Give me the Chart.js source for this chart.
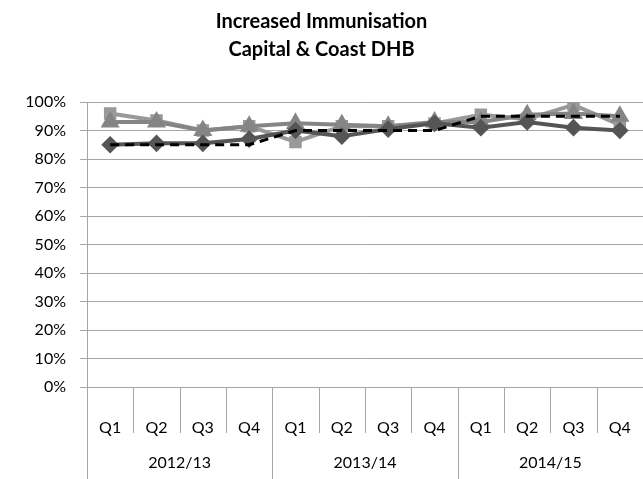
<!DOCTYPE html>
<html>
<head>
<meta charset="utf-8">
<script src="https://cdn.jsdelivr.net/npm/chart.js@4/dist/chart.umd.min.js"></script>
<style>
  html, body { margin: 0; padding: 0; background: #fff; }
  #wrap { width: 643px; height: 479px; }
</style>
</head>
<body>
<div id="wrap"><canvas id="chart" width="643" height="479"></canvas></div>
<script>
// dados
const quarters = ['Q1','Q2','Q3','Q4','Q1','Q2','Q3','Q4','Q1','Q2','Q3','Q4'];
const years = ['2012/13', '2013/14', '2014/15'];
const yTicks = [0, 0.1, 0.2, 0.3, 0.4, 0.5, 0.6, 0.7, 0.8, 0.9, 1];

const serieDiamante = [0.85, 0.855, 0.855, 0.87, 0.90, 0.88, 0.905, 0.925, 0.91, 0.93, 0.91, 0.90];
const serieMeta     = [0.85, 0.85, 0.85, 0.85, 0.90, 0.90, 0.90, 0.90, 0.95, 0.95, 0.95, 0.95];
const serieQuadrado = [0.96, 0.935, 0.90, 0.915, 0.86, 0.915, 0.915, 0.925, 0.955, 0.94, 0.99, 0.92];
const serieTriangulo = [0.93, 0.93, 0.90, 0.915, 0.925, 0.92, 0.915, 0.93, 0.93, 0.955, 0.96, 0.95];

const FONTE = 'Lato, "Open Sans", sans-serif';

// desenha as linhas de separação e o segundo nível do eixo X
const eixoDuplo = {
  id: 'eixoDuplo',
  afterDraw(chart) {
    const ctx = chart.ctx;
    const x = chart.scales.x;
    const bottom = chart.chartArea.bottom;
    const passo = x.getPixelForValue(1) - x.getPixelForValue(0);
    ctx.save();
    ctx.strokeStyle = '#a6a6a6';
    ctx.lineWidth = 1;
    for (let i = 0; i <= quarters.length; i++) {
      const px = Math.round(x.getPixelForValue(i) - passo / 2) + 0.5;
      const fim = (i % 4 === 0) ? 479 : 433;
      ctx.beginPath();
      ctx.moveTo(px, bottom);
      ctx.lineTo(px, fim);
      ctx.stroke();
    }
    ctx.fillStyle = '#000';
    ctx.font = '16px ' + FONTE;
    ctx.textAlign = 'center';
    ctx.textBaseline = 'middle';
    years.forEach((ano, g) => {
      const cx = (x.getPixelForValue(g * 4) + x.getPixelForValue(g * 4 + 3)) / 2;
      ctx.fillText(ano, cx, 463);
    });
    ctx.restore();
  }
};

new Chart(document.getElementById('chart'), {
  type: 'line',
  data: {
    labels: quarters,
    datasets: [
      {
        data: serieMeta,
        borderColor: '#000',
        borderWidth: 3,
        borderDash: [9, 6],
        pointRadius: 0,
        tension: 0,
        order: 0
      },
      {
        data: serieDiamante,
        borderColor: '#555555',
        backgroundColor: '#555555',
        borderWidth: 4,
        pointStyle: 'rectRot',
        pointRadius: 6,
        tension: 0,
        order: 1
      },
      {
        data: serieTriangulo,
        borderColor: '#858585',
        backgroundColor: '#858585',
        borderWidth: 4,
        pointStyle: 'triangle',
        pointRadius: 7,
        tension: 0,
        order: 2
      },
      {
        data: serieQuadrado,
        borderColor: '#999999',
        backgroundColor: '#999999',
        borderWidth: 4,
        pointStyle: 'rect',
        pointRadius: 6,
        tension: 0,
        order: 3
      }
    ]
  },
  options: {
    responsive: false,
    animation: false,
    layout: { autoPadding: false, padding: 0 },
    plugins: {
      legend: { display: false },
      tooltip: { enabled: false },
      title: {
        display: true,
        text: ['Increased Immunisation', 'Capital & Coast DHB'],
        color: '#000',
        font: { family: FONTE, size: 20, weight: 'bold', lineHeight: 1.4 },
        padding: { top: 8, bottom: 38 }
      }
    },
    scales: {
      x: {
        offset: true,
        grid: { display: false },
        border: { color: '#a6a6a6' },
        ticks: {
          color: '#000',
          font: { family: FONTE, size: 16 },
          padding: 23,
          maxRotation: 0,
          autoSkip: false
        },
        afterFit(scale) {
          scale.height = 92;
          scale.paddingLeft = 0;
          scale.paddingRight = 0;
        }
      },
      y: {
        min: 0,
        max: 1,
        afterBuildTicks(scale) { scale.ticks = yTicks.map(v => ({ value: v })); },
        grid: { color: '#a6a6a6', tickLength: 7 },
        border: { color: '#a6a6a6' },
        ticks: {
          color: '#000',
          font: { family: FONTE, size: 16 },
          padding: 14,
          callback: v => Math.round(v * 100) + '%'
        },
        afterFit(scale) { scale.width = 87; }
      }
    }
  },
  plugins: [eixoDuplo]
});
</script>
</body>
</html>
